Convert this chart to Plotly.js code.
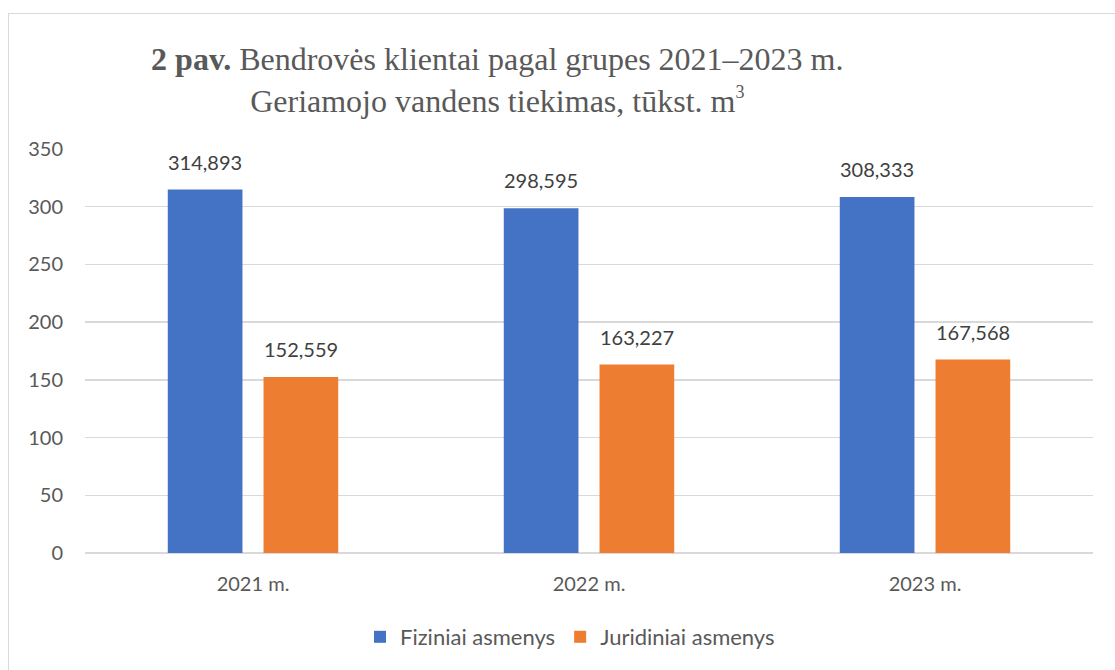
<!DOCTYPE html>
<html>
<head>
<meta charset="utf-8">
<script src="https://cdn.plot.ly/plotly-3.0.1.min.js"></script>
<style>
  html, body { margin: 0; padding: 0; background: #ffffff; }
  #wrap { position: relative; width: 1115px; height: 670px; overflow: hidden; }
  #frame { position: absolute; left: 8px; top: 13px; width: 1200px; height: 800px;
           border: 1.5px solid #d9d9d9; box-sizing: border-box; pointer-events: none; }
  #chart { position: absolute; left: 0; top: 0; width: 1115px; height: 670px; }
</style>
</head>
<body>
<div id="wrap">
  <div id="frame"></div>
  <div id="chart"></div>
</div>
<script>
const categories = ['2021 m.', '2022 m.', '2023 m.'];
const seriesNames = ['Fiziniai asmenys', 'Juridiniai asmenys'];
const fiziniai = [314.893, 298.595, 308.333];
const juridiniai = [152.559, 163.227, 167.568];
const yTicks = [0, 50, 100, 150, 200, 250, 300, 350];
const colors = ['#4472C4', '#ED7D31'];

const series = [fiziniai, juridiniai];
const bargap = 0.43;
const nSeries = series.length;

const traces = series.map((vals, s) => ({
  type: 'bar',
  name: seriesNames[s],
  x: categories,
  y: vals,
  marker: { color: colors[s], line: { width: 0 } },
  hoverinfo: 'skip'
}));

const fmt = v => v.toFixed(3).replace('.', ',');
const annotations = [];
series.forEach((vals, s) => {
  vals.forEach((v, i) => {
    annotations.push({
      xref: 'x', yref: 'y',
      x: i + (s + 0.5 - nSeries / 2) * (1 - bargap) / nSeries,
      y: v,
      text: fmt(v),
      showarrow: false,
      xanchor: 'center', yanchor: 'bottom',
      yshift: 14,
      font: { family: 'Lato, sans-serif', size: 20, color: '#404040' }
    });
  });
});

const layout = {
  width: 1115, height: 670,
  paper_bgcolor: 'rgba(0,0,0,0)',
  plot_bgcolor: 'rgba(0,0,0,0)',
  margin: { l: 85, r: 22, t: 149, b: 117 },
  separators: ',.',
  barmode: 'group',
  bargap: bargap,
  bargroupgap: 0.22,
  title: {
    text: '<b>2 pav.</b> Bendrovės klientai pagal grupes 2021–2023 m.<br>Geriamojo vandens tiekimas, tūkst. m<sup><span style="font-size:18px">3</span></sup>',
    font: { family: '"Liberation Serif", "Times New Roman", serif', size: 32, color: '#595959' },
    xref: 'container', yref: 'container',
    x: 0.446, xanchor: 'center',
    y: 1 - 70 / 670, yanchor: 'top'
  },
  xaxis: {
    type: 'category',
    showgrid: false,
    showline: false,
    zeroline: false,
    ticks: '',
    ticklabelstandoff: 17,
    tickfont: { family: 'Lato, sans-serif', size: 20, color: '#595959' }
  },
  yaxis: {
    range: [0, 350],
    tickvals: yTicks,
    ticktext: yTicks.map(String),
    showgrid: true,
    gridcolor: '#d9d9d9',
    gridwidth: 1.5,
    zeroline: true,
    zerolinecolor: '#d9d9d9',
    zerolinewidth: 1.5,
    showline: false,
    ticks: '',
    ticklabelstandoff: 21,
    tickfont: { family: 'Lato, sans-serif', size: 20, color: '#595959' }
  },
  legend: {
    orientation: 'h',
    xref: 'container', yref: 'container',
    x: 570 / 1115, xanchor: 'center',
    y: 1 - 637 / 670, yanchor: 'middle',
    font: { family: 'Lato, sans-serif', size: 22, color: '#595959' },
    itemwidth: 30,
    tracegroupgap: 0
  },
  showlegend: true,
  annotations: annotations
};

Plotly.newPlot('chart', traces, layout, { displayModeBar: false, staticPlot: true });
</script>
</body>
</html>
